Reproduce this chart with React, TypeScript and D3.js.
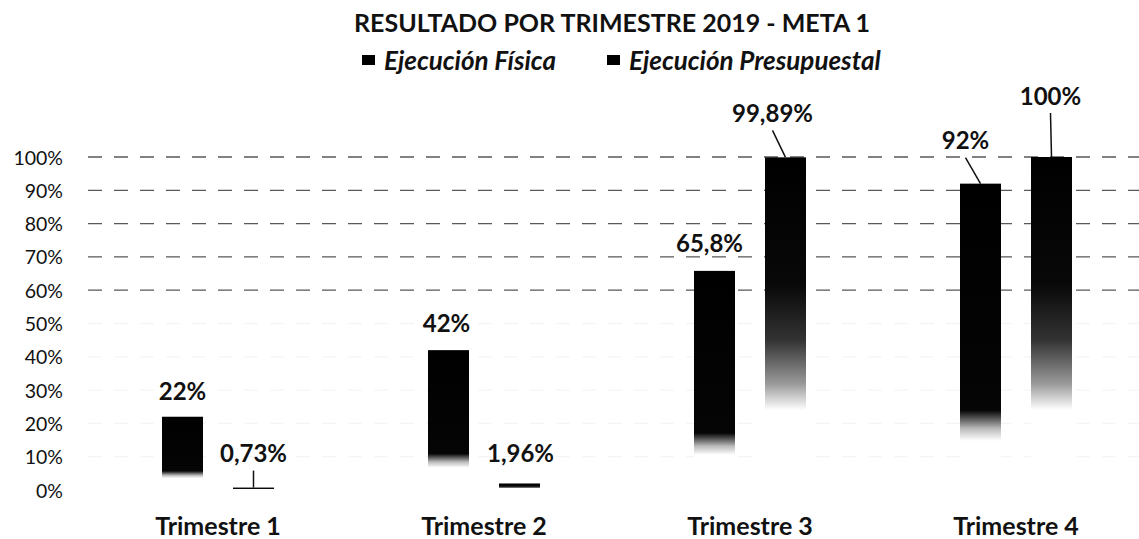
import React, { useRef, useEffect } from "react";
import { select, scaleBand, scaleLinear, format } from "d3";

// values
const quarters = ["Trimestre 1", "Trimestre 2", "Trimestre 3", "Trimestre 4"];
const seriesNames = ["Ejecución Física", "Ejecución Presupuestal"];
const fisica = [0.22, 0.42, 0.658, 0.92];
const presupuestal = [0.0073, 0.0196, 0.9989, 1.0];
const fisicaLabels = ["22%", "42%", "65,8%", "92%"];
const presupuestalLabels = ["0,73%", "1,96%", "99,89%", "100%"];
const yTicks = [0, 0.1, 0.2, 0.3, 0.4, 0.5, 0.6, 0.7, 0.8, 0.9, 1.0];

const W = 1139;
const H = 539;
const FONT = "Lato, 'Open Sans', sans-serif";

// where each data label sits relative to the top of its bar: [dx, dy, leader]
const labelPlace: Record<string, [number, number, boolean][]> = {
  fisica: [
    [0, -26, false],
    [-2, -28, false],
    [-5, -28, false],
    [-15, -44, true],
  ],
  presupuestal: [
    [0, -35, true],
    [1, -31, false],
    [-13, -45, true],
    [-1, -62, true],
  ],
};

function ResultadoChart() {
  const svgRef = useRef<SVGSVGElement>(null);

  useEffect(() => {
    const svg = select(svgRef.current);
    svg.selectAll("*").remove();

    const y = scaleLinear().domain([0, 1]).range([490, 157]);
    const x = scaleBand().domain(quarters).range([85, 1149]).padding(0);
    const inner = scaleBand()
      .domain(seriesNames)
      .range([-56, 56])
      .paddingInner(0.4225);

    // gradients that mimic the faded bottoms of the scan
    const defs = svg.append("defs");
    const g1 = defs.append("linearGradient").attr("id", "fadeFisica")
      .attr("x1", 0).attr("y1", 0).attr("x2", 0).attr("y2", 1);
    [[0, "#000"], [0.74, "#050505"], [0.8, "#bbb"], [0.84, "#fff"], [1, "#fff"]]
      .forEach(([o, c]) => g1.append("stop").attr("offset", o).attr("stop-color", c));
    const g2 = defs.append("linearGradient").attr("id", "fadePresup")
      .attr("x1", 0).attr("y1", 0).attr("x2", 0).attr("y2", 1);
    [[0, "#000"], [0.38, "#080808"], [0.55, "#333"], [0.68, "#999"], [0.76, "#fff"], [1, "#fff"]]
      .forEach(([o, c]) => g2.append("stop").attr("offset", o).attr("stop-color", c));

    // title
    svg.append("text")
      .attr("x", 612).attr("y", 22)
      .attr("text-anchor", "middle").attr("dominant-baseline", "central")
      .attr("font-family", FONT).attr("font-weight", 700).attr("font-size", 25)
      .attr("fill", "#111")
      .text("RESULTADO POR TRIMESTRE 2019 - META 1");

    // legend
    const legendX = [362, 607];
    seriesNames.forEach((name, i) => {
      svg.append("rect")
        .attr("x", legendX[i]).attr("y", 55)
        .attr("width", 13).attr("height", 10).attr("fill", "#000");
      svg.append("text")
        .attr("x", legendX[i] + 22).attr("y", 60)
        .attr("dominant-baseline", "central")
        .attr("font-family", FONT).attr("font-weight", 700)
        .attr("font-style", "italic").attr("font-size", 26)
        .attr("fill", "#111")
        .text(name);
    });

    // gridlines (only the upper ones survived the scan)
    svg.append("g")
      .selectAll("line")
      .data(yTicks.filter((t) => t > 0))
      .join("line")
      .attr("x1", 88).attr("x2", W)
      .attr("y1", (d) => y(d)).attr("y2", (d) => y(d))
      .attr("stroke", "#222")
      .attr("stroke-width", 1.3)
      .attr("stroke-dasharray", "14 12")
      .attr("opacity", (d) => (d >= 0.6 ? 0.75 : 0.04));

    // y axis labels
    svg.append("g")
      .selectAll("text")
      .data(yTicks)
      .join("text")
      .attr("x", 63).attr("y", (d) => y(d))
      .attr("text-anchor", "end").attr("dominant-baseline", "central")
      .attr("font-family", FONT).attr("font-size", 19.5)
      .attr("fill", "#111")
      .text((d) => format(".0%")(d));

    // bars
    const series = [
      { key: "fisica", name: seriesNames[0], values: fisica, labels: fisicaLabels, fill: "url(#fadeFisica)" },
      { key: "presupuestal", name: seriesNames[1], values: presupuestal, labels: presupuestalLabels, fill: "url(#fadePresup)" },
    ];

    series.forEach((s) => {
      const bw = inner.bandwidth();
      const cx = (q: string) => (x(q) as number) + x.bandwidth() / 2 + (inner(s.name) as number);

      svg.append("g")
        .selectAll("rect")
        .data(quarters)
        .join("rect")
        .attr("x", (q) => cx(q))
        .attr("y", (q, i) => y(s.values[i]))
        .attr("width", bw)
        .attr("height", (q, i) => y(0) - y(s.values[i]))
        .attr("fill", s.fill);

      const lg = svg.append("g");
      quarters.forEach((q, i) => {
        const [dx, dy, leader] = labelPlace[s.key][i];
        const bx = cx(q) + bw / 2;
        const by = y(s.values[i]);
        if (leader) {
          lg.append("line")
            .attr("x1", bx + dx).attr("y1", by + dy + 18)
            .attr("x2", bx).attr("y2", by)
            .attr("stroke", "#111").attr("stroke-width", 1.5);
        }
        lg.append("text")
          .attr("x", bx + dx).attr("y", by + dy)
          .attr("text-anchor", "middle").attr("dominant-baseline", "central")
          .attr("font-family", FONT).attr("font-weight", 700).attr("font-size", 24)
          .attr("fill", "#111")
          .text(s.labels[i]);
      });
    });

    // category labels
    svg.append("g")
      .selectAll("text")
      .data(quarters)
      .join("text")
      .attr("x", (q) => (x(q) as number) + x.bandwidth() / 2)
      .attr("y", 525)
      .attr("text-anchor", "middle").attr("dominant-baseline", "central")
      .attr("font-family", FONT).attr("font-weight", 700).attr("font-size", 25)
      .attr("fill", "#111")
      .text((q) => q);
  }, []);

  return (
    <svg
      ref={svgRef}
      width={W}
      height={H}
      style={{ position: "absolute", left: 0, top: 0, background: "#fff" }}
    />
  );
}

export default function App() {
  return <ResultadoChart />;
}
